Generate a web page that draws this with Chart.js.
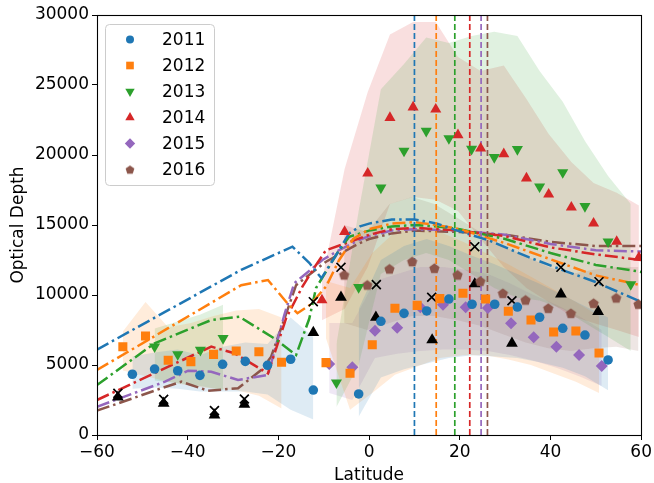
<!DOCTYPE html>
<html>
<head>
<meta charset="utf-8">
<script src="https://cdn.jsdelivr.net/npm/chart.js@4.4.1/dist/chart.umd.min.js"></script>
<style>
  html, body { margin: 0; padding: 0; background: #fff; }
  #wrap { width: 654px; height: 483px; }
</style>
</head>
<body>
<div id="wrap"><canvas id="OpticalDepthChart" width="654" height="483"></canvas></div>
<script>
// observed points
var lat2011 = [-52.2,-47.3,-42.2,-37.3,-32.3,-27.3,-22.4,-17.3,-12.3,-2.3,2.6,7.7,12.7,17.6,22.7,27.7,32.7,37.6,42.7,47.6,52.7];
var od2011 = [4340,4710,4590,4260,5050,5260,4980,5410,3210,2930,8120,8690,8860,9710,9340,9340,9140,8410,7620,7140,5360];
var lat2012 = [-54.3,-49.3,-44.3,-39.3,-34.3,-29.3,-24.3,-19.3,-9.5,-4.2,0.7,5.7,10.6,15.6,20.7,25.7,30.7,35.7,40.7,45.6,50.7];
var od2012 = [6310,7070,5340,5240,5760,6000,5950,5190,5170,4410,6450,9050,9260,9740,10120,9710,8840,8210,7360,7430,5860];
var lat2013 = [-47.3,-42.2,-37.2,-32.2,-7.2,-2.3,2.6,7.7,12.6,17.6,22.6,27.6,32.7,37.6,42.7,47.6,52.7,57.7];
var od2013 = [6310,5760,6070,6910,3740,10550,17660,20290,21710,21190,20430,19840,20410,17740,18760,16340,13810,10760];
var lat2014 = [-10.4,-5.4,-0.3,4.6,9.7,14.7,19.6,24.6,29.7,34.7,39.6,44.6,49.5,54.6,59.5];
var od2014 = [9640,14520,18690,22660,23410,23260,21430,20480,20070,18340,17190,16260,15120,13810,12690];
var lat2015 = [-8.8,-3.7,1.3,6.2,11.3,16.3,21.3,26.2,31.3,36.3,41.3,46.3,51.3];
var od2015 = [5070,4840,7450,7660,9120,9310,9120,9070,7980,6980,6310,5710,4930];
var lat2016 = [-5.5,-0.4,4.5,9.5,14.4,19.5,24.5,29.5,34.5,39.5,44.5,49.5,54.5,59.4];
var od2016 = [11430,10710,11860,12380,11910,11430,10980,10120,9640,9050,8690,9410,9790,9340];

var triLat = [-55.4,-45.3,-34.1,-27.5,-12.3,-6.2,1.5,13.9,23.3,31.5,42.3,50.5];
var triOD = [2700,2260,1430,2190,7310,9840,8410,6790,10790,6550,10070,8810];
var crossLat = [-55.4,-45.3,-34.1,-27.5,-12.3,-6.2,1.6,13.8,23.3,31.5,42.3,50.7];
var crossOD = [2980,2550,1740,2570,9520,11980,10740,9840,13450,9590,11980,10950];

// model curves
var lineLat2011 = [-60,-28.2,-16.9,-13.2,-10.5,-7,-4.4,-2,0,5,10,15,19,26.4,35.2,42.5,49.8,60];
var line2011 = [6100,11800,13450,12300,11200,13000,14400,14900,15100,15400,15400,15100,14650,13900,12700,11800,10950,9500];
var lineLat2012 = [-60,-28.2,-22.3,-18,-15.8,-13,-9.5,-6.6,-3.5,0,5,10,15,20,30,40,50,60];
var line2012 = [4640,10700,11070,9400,8700,9300,10600,12500,14000,14700,15100,15200,15000,14700,13700,12550,11400,10700];
var lineLat2013 = [-60,-47.3,-34.8,-28.6,-20.9,-16.1,-13.2,-11.7,-7,-4.4,0,5,10,15,20,30,40,50,60];
var line2013 = [3570,6550,8210,8450,6900,5710,8300,10500,13000,14160,14600,14900,15000,14900,14700,14000,13000,12150,11650];
var lineLat2014 = [-60,-34.8,-29.7,-22.3,-18.3,-14.7,-12,-9.5,-5.1,0,5,10,20,30,40,50,60];
var line2014 = [2500,6310,5840,4400,8340,10600,12000,13200,13700,14300,14700,14800,14600,14200,13400,12900,12500];
var lineLat2015 = [-60,-45,-39.9,-34.8,-28.9,-22.3,-18.7,-16.5,-12.5,-10.3,-6.6,-2.2,0,5,10,20,30,40,50,60];
var line2015 = [2020,3810,4590,4520,3930,4290,8570,10840,11900,12500,13200,13930,14200,14600,14700,14600,14300,13650,13200,13100];
var lineLat2016 = [-60,-55.3,-45.8,-41.4,-35.5,-28.9,-23.8,-21.6,-16.1,-9.5,-2.2,0,5,10,20,30,40,50,60];
var line2016 = [1740,2260,3340,3810,3160,3340,4640,5590,10700,12380,13690,14000,14400,14600,14500,14300,13800,13500,13500];

// spread bands (south / north parts)
var band2011sLat = [-52.2,-47.3,-42.2,-37.3,-32.3,-27.3,-22.4,-17.3,-12.3];
var band2011sLo = [3300,3400,3300,3100,3100,3100,2900,1800,1100];
var band2011sHi = [5600,5900,6100,5700,6300,6600,6500,8400,7000];
var band2011nLat = [-2.3,2.6,7.7,12.7,17.6,22.7,27.7,32.7,37.6,42.7,47.6,52.7];
var band2011nLo = [1300,4100,4700,5100,5500,5700,5600,5500,5200,4800,4200,3200];
var band2011nHi = [9000,12500,13500,14000,13500,12800,12200,11500,10800,10000,9200,8400];

var band2012sLat = [-54.3,-49.3,-44.3,-39.3,-34.3,-29.3,-24.3,-19.3];
var band2012sLo = [4600,4200,3800,3500,3300,3200,2800,1900];
var band2012sHi = [7400,9500,7700,8000,8500,8900,9000,8400];
var band2012nLat = [-9.5,-4.2,0.7,5.7,10.6,15.6,20.7,25.7,30.7,35.7,40.7,45.6,50.7];
var band2012nLo = [6900,1800,3000,4300,4900,5500,5700,5700,5400,5000,4400,3800,3000];
var band2012nHi = [11000,10500,13000,14500,15000,14500,13800,13000,12200,11300,10400,9500,8500];

var band2013sLat = [-47.3,-42.2,-37.2,-32.2];
var band2013sLo = [3900,3700,3500,3200];
var band2013sHi = [7600,8100,8600,9300];
var band2013nLat = [-7.2,-2.3,2.6,7.7,12.6,17.6,22.6,27.6,32.7,37.6,42.7,47.6,52.7,57.7];
var band2013nLo = [2000,5000,11500,12500,13000,12500,11500,10500,9800,9600,9000,8000,7000,6000];
var band2013nHi = [6500,16000,24700,26500,28400,28000,28500,28800,28500,26000,23800,21000,18500,16500];

var band2014Lat = [-10.4,-5.4,-0.3,4.6,9.7,14.7,19.6,24.6,29.7,34.7,39.6,44.6,49.5,54.6,59.5];
var band2014Lo = [8200,9000,12000,16500,17000,16800,16000,14000,12000,10500,9500,8500,8000,7500,7000];
var band2014Hi = [11000,19000,24500,28600,29500,29500,27000,26000,26400,24000,21500,19500,18000,17300,16400];

var band2015Lat = [-8.8,-3.7,1.3,6.2,11.3,16.3,21.3,26.2,31.3,36.3,41.3,46.3,51.3];
var band2015Lo = [3000,2500,5500,5800,6000,6100,6100,6000,5700,5300,4800,4200,3500];
var band2015Hi = [8000,8000,11000,11500,12000,12000,11800,11500,10800,10000,9300,8500,7500];

var band2016Lat = [-5.5,-0.4,4.5,9.5,14.4,19.5,24.5,29.5,34.5,39.5,44.5,49.5,54.5,59.4];
var band2016Lo = [8000,7500,8000,8500,8500,8200,7800,7200,6600,6200,6000,6200,6300,6000];
var band2016Hi = [15000,14500,16500,17000,16500,15500,14500,13500,12800,12000,11500,11800,12000,12000];

var markLat = [10, 14.8, 18.9, 22.2, 24.7, 26.1];

var years = ['2011','2012','2013','2014','2015','2016'];
var colors = ['#1f77b4','#ff7f0e','#2ca02c','#d62728','#9467bd','#8c564b'];
var fills = ['rgba(31,119,180,0.15)','rgba(255,127,14,0.15)','rgba(44,160,44,0.15)',
             'rgba(214,39,40,0.15)','rgba(148,103,189,0.15)','rgba(140,86,75,0.15)'];

function pts(xs, ys) {
    return xs.map((x, i) => ({x: x, y: ys[i]}));
}

function pentagon(color, r) {
    var c = document.createElement('canvas');
    c.width = c.height = Math.ceil(r * 2 + 2);
    var g = c.getContext('2d');
    var cx = c.width / 2, cy = c.height / 2 + 0.5;
    g.beginPath();
    for (var k = 0; k < 5; k++) {
        var a = -Math.PI / 2 + k * 2 * Math.PI / 5;
        g.lineTo(cx + r * Math.cos(a), cy + r * Math.sin(a));
    }
    g.closePath();
    g.fillStyle = color;
    g.fill();
    return c;
}

var marker = [
    {pointStyle: 'circle', radius: 4.8, rotation: 0},
    {pointStyle: 'rect', radius: 6.4, rotation: 0},
    {pointStyle: 'triangle', radius: 6.4, rotation: 180},
    {pointStyle: 'triangle', radius: 6.4, rotation: 0},
    {pointStyle: 'rectRot', radius: 6, rotation: 0},
    {pointStyle: pentagon(colors[5], 5.4), radius: 5.4, rotation: 0}
];
var legendMarker = [
    {pointStyle: 'circle', radius: 4, rotation: 0},
    {pointStyle: 'rect', radius: 5.4, rotation: 0},
    {pointStyle: 'triangle', radius: 5.4, rotation: 180},
    {pointStyle: 'triangle', radius: 5.4, rotation: 0},
    {pointStyle: 'rectRot', radius: 5.2, rotation: 0},
    {pointStyle: pentagon(colors[5], 4.6), radius: 4.6, rotation: 0}
];

var datasets = [];

function addBand(xs, lo, hi, i) {
    datasets.push({type: 'line', data: pts(xs, lo), borderWidth: 0, pointRadius: 0,
        fill: false, order: 5, tension: 0});
    datasets.push({type: 'line', data: pts(xs, hi), borderWidth: 0, pointRadius: 0,
        fill: '-1', backgroundColor: fills[i], order: 5, tension: 0});
}

addBand(band2011sLat, band2011sLo, band2011sHi, 0);
addBand(band2011nLat, band2011nLo, band2011nHi, 0);
addBand(band2012sLat, band2012sLo, band2012sHi, 1);
addBand(band2012nLat, band2012nLo, band2012nHi, 1);
addBand(band2013sLat, band2013sLo, band2013sHi, 2);
addBand(band2013nLat, band2013nLo, band2013nHi, 2);
addBand(band2014Lat, band2014Lo, band2014Hi, 3);
addBand(band2015Lat, band2015Lo, band2015Hi, 4);
addBand(band2016Lat, band2016Lo, band2016Hi, 5);

var lineLats = [lineLat2011, lineLat2012, lineLat2013, lineLat2014, lineLat2015, lineLat2016];
var lineVals = [line2011, line2012, line2013, line2014, line2015, line2016];
lineLats.forEach((xs, i) => {
    datasets.push({type: 'line', data: pts(xs, lineVals[i]), borderColor: colors[i],
        borderWidth: 2.5, borderDash: [13, 4, 2.5, 4], pointRadius: 0, fill: false,
        order: 3, tension: 0});
});

markLat.forEach((x, i) => {
    datasets.push({type: 'line', data: [{x: x, y: 0}, {x: x, y: 30000}], borderColor: colors[i],
        borderWidth: 1.7, borderDash: [6, 3], pointRadius: 0, fill: false, order: 2});
});

datasets.push({type: 'scatter', data: pts(triLat, triOD), pointStyle: 'triangle',
    pointRadius: 6.8, backgroundColor: '#000', borderWidth: 0, order: 1});
datasets.push({type: 'scatter', data: pts(crossLat, crossOD), pointStyle: 'crossRot',
    pointRadius: 6.3, borderColor: '#000', borderWidth: 1.7, order: 1});

var seriesLat = [lat2011, lat2012, lat2013, lat2014, lat2015, lat2016];
var seriesOD = [od2011, od2012, od2013, od2014, od2015, od2016];
seriesLat.forEach((xs, i) => {
    datasets.push({type: 'scatter', label: years[i], data: pts(xs, seriesOD[i]),
        pointStyle: marker[i].pointStyle, pointRadius: marker[i].radius,
        rotation: marker[i].rotation, backgroundColor: colors[i], borderWidth: 0, order: 0});
});

var font = "'DejaVu Sans', sans-serif";

var framePlugin = {
    id: 'frame',
    afterDraw: chart => {
        let ctx = chart.ctx;
        let a = chart.chartArea;
        ctx.save();
        ctx.strokeStyle = '#000';
        ctx.lineWidth = 1.1;
        ctx.strokeRect(Math.round(a.left) + 0.5, Math.round(a.top) + 0.5,
            Math.round(a.right - a.left), Math.round(a.bottom - a.top));

        // legend box
        let bx = 105.5, by = 24.5, bw = 109, bh = 161, r = 4;
        ctx.beginPath();
        ctx.moveTo(bx + r, by);
        ctx.arcTo(bx + bw, by, bx + bw, by + bh, r);
        ctx.arcTo(bx + bw, by + bh, bx, by + bh, r);
        ctx.arcTo(bx, by + bh, bx, by, r);
        ctx.arcTo(bx, by, bx + bw, by, r);
        ctx.closePath();
        ctx.fillStyle = 'rgba(255,255,255,0.8)';
        ctx.fill();
        ctx.strokeStyle = '#cccccc';
        ctx.lineWidth = 1;
        ctx.stroke();

        ctx.font = '17px ' + font;
        ctx.textBaseline = 'middle';
        ctx.textAlign = 'left';
        years.forEach((y, i) => {
            let cy = 39.5 + i * 26;
            ctx.fillStyle = colors[i];
            ctx.strokeStyle = 'rgba(0,0,0,0)';
            Chart.helpers.drawPoint(ctx, {
                pointStyle: legendMarker[i].pointStyle,
                radius: legendMarker[i].radius,
                rotation: legendMarker[i].rotation,
                borderWidth: 0
            }, 130, cy);
            ctx.fillStyle = '#000';
            ctx.fillText(y, 162, cy + 1);
        });
        ctx.restore();
    }
};

new Chart(document.getElementById('OpticalDepthChart'), {
    type: 'scatter',
    data: {datasets: datasets},
    plugins: [framePlugin],
    options: {
        responsive: false,
        animation: false,
        devicePixelRatio: 1,
        layout: {padding: {left: 0, right: 11, top: 15, bottom: 0}},
        plugins: {legend: {display: false}, tooltip: {enabled: false}},
        scales: {
            x: {
                type: 'linear', min: -60, max: 60,
                afterFit: s => { s.height = 48; },
                ticks: {stepSize: 20, color: '#000', font: {family: font, size: 17}, padding: 2,
                    maxRotation: 0,
                    callback: v => String(v).replace('-', '\u2212')},
                grid: {drawOnChartArea: false, tickLength: 5, color: '#000'},
                border: {color: '#000'},
                title: {display: true, text: 'Latitude', color: '#000',
                    font: {family: font, size: 17}, padding: {top: 0, bottom: -3}}
            },
            y: {
                type: 'linear', min: 0, max: 30000,
                afterFit: s => { s.width = 97; },
                ticks: {stepSize: 5000, color: '#000', font: {family: font, size: 17}, padding: 3,
                    callback: v => String(v)},
                grid: {drawOnChartArea: false, tickLength: 5, color: '#000'},
                border: {color: '#000'},
                title: {display: true, text: 'Optical Depth', color: '#000',
                    font: {family: font, size: 17}, padding: {top: 8, bottom: 0}}
            }
        }
    }
});
</script>
</body>
</html>
